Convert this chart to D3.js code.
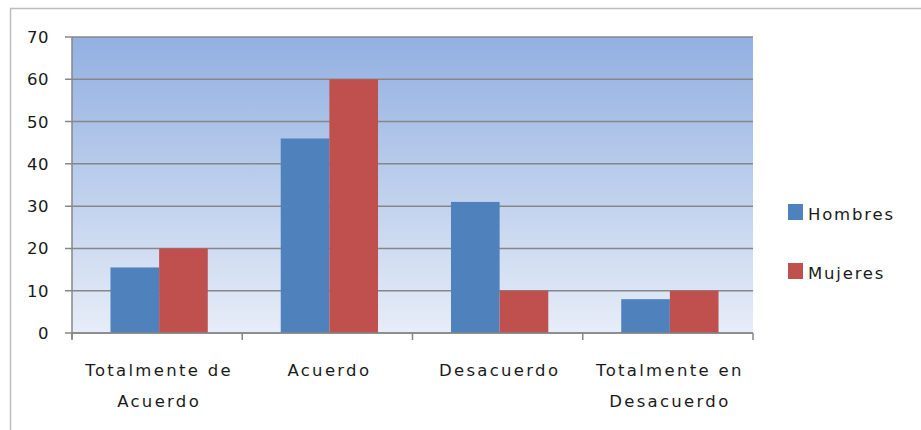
<!DOCTYPE html>
<html>
<head>
<meta charset="utf-8">
<script src="https://cdn.jsdelivr.net/npm/d3@7"></script>
<style>
  body { margin: 0; background: #fff; }
  text { font-family: "DejaVu Sans", Verdana, sans-serif; fill: #1a1a1a; }
</style>
</head>
<body>
<div id="chart"></div>
<script>
let categories = ['Totalmente de Acuerdo', 'Acuerdo', 'Desacuerdo', 'Totalmente en Desacuerdo'];
let category_lines = [['Totalmente de', 'Acuerdo'], ['Acuerdo'], ['Desacuerdo'], ['Totalmente en', 'Desacuerdo']];
let series_names = ['Hombres', 'Mujeres'];
let hombres = [15.5, 46, 31, 8];
let mujeres = [20, 60, 10, 10];
let y_ticks = [0, 10, 20, 30, 40, 50, 60, 70];
let colors = ['#4f81bd', '#c0504d'];

let chart_width = 921;
let chart_height = 430;
let plot = { left: 72, right: 753, top: 37, bottom: 333 };

let svg = d3.select('#chart')
    .append('svg')
    .attr('width', chart_width)
    .attr('height', chart_height);

// outer frame
svg.append('rect')
    .attr('x', 10.5).attr('y', 8.5)
    .attr('width', 930).attr('height', 440)
    .attr('fill', 'none')
    .attr('stroke', '#bdbdbd')
    .attr('stroke-width', 1.5);

let grad = svg.append('defs').append('linearGradient')
    .attr('id', 'bg').attr('x1', 0).attr('y1', 0).attr('x2', 0).attr('y2', 1);
grad.append('stop').attr('offset', '0%').attr('stop-color', '#92b0e1');
grad.append('stop').attr('offset', '100%').attr('stop-color', '#e7edf8');

let x_scale = d3.scaleBand()
    .domain(categories)
    .range([plot.left, plot.right]);

let x_inner = d3.scaleBand()
    .domain(series_names)
    .range([2, x_scale.bandwidth() + 2])
    .paddingOuter(0.75);

let y_scale = d3.scaleLinear()
    .domain([0, 70])
    .range([plot.bottom, plot.top]);

svg.append('rect')
    .attr('x', plot.left).attr('y', plot.top)
    .attr('width', plot.right - plot.left)
    .attr('height', plot.bottom - plot.top)
    .attr('fill', 'url(#bg)');

// gridlines
svg.selectAll('.grid')
    .data(y_ticks)
    .enter()
    .append('line')
    .attr('x1', plot.left - 7)
    .attr('x2', plot.right)
    .attr('y1', d => y_scale(d))
    .attr('y2', d => y_scale(d))
    .attr('stroke', '#878787')
    .attr('stroke-width', 1.5);

// bars
let rows = categories.map((c, i) => ({ cat: c, values: [hombres[i], mujeres[i]] }));
let groups = svg.selectAll('.grp')
    .data(rows)
    .enter()
    .append('g')
    .attr('transform', d => 'translate(' + x_scale(d.cat) + ',0)');

groups.selectAll('rect')
    .data(d => d.values.map((v, j) => ({ name: series_names[j], v: v, j: j })))
    .enter()
    .append('rect')
    .attr('x', d => x_inner(d.name))
    .attr('y', d => y_scale(d.v))
    .attr('width', x_inner.bandwidth())
    .attr('height', d => plot.bottom - y_scale(d.v))
    .attr('fill', d => colors[d.j]);

// axes lines
svg.append('line')
    .attr('x1', plot.left).attr('x2', plot.left)
    .attr('y1', plot.top).attr('y2', plot.bottom + 6)
    .attr('stroke', '#878787').attr('stroke-width', 1.5);
svg.append('line')
    .attr('x1', plot.left).attr('x2', plot.right)
    .attr('y1', plot.bottom).attr('y2', plot.bottom)
    .attr('stroke', '#878787').attr('stroke-width', 1.5);

let x_ticks = categories.map(c => x_scale(c)).concat([plot.right]);
svg.selectAll('.xtick')
    .data(x_ticks)
    .enter()
    .append('line')
    .attr('x1', d => d).attr('x2', d => d)
    .attr('y1', plot.bottom).attr('y2', plot.bottom + 7)
    .attr('stroke', '#878787').attr('stroke-width', 1.5);

// y labels
svg.selectAll('.ylab')
    .data(y_ticks)
    .enter()
    .append('text')
    .attr('x', 49)
    .attr('y', d => y_scale(d) + 6)
    .attr('text-anchor', 'end')
    .attr('font-size', 16.5)
    .attr('letter-spacing', 0.5)
    .text(d => d);

// x labels
let xl = svg.selectAll('.xlab')
    .data(categories)
    .enter()
    .append('text')
    .attr('text-anchor', 'middle')
    .attr('font-size', 16.5)
    .attr('letter-spacing', 2.3);
xl.selectAll('tspan')
    .data((d, i) => category_lines[i].map(t => ({ t: t, cat: d })))
    .enter()
    .append('tspan')
    .attr('x', d => x_scale(d.cat) + x_scale.bandwidth() / 2 + 2)
    .attr('y', (d, k) => 376 + k * 31)
    .text(d => d.t);

// legend
let legend = svg.selectAll('.leg')
    .data(series_names)
    .enter()
    .append('g')
    .attr('transform', (d, i) => 'translate(788,' + (204 + i * 59) + ')');
legend.append('rect')
    .attr('width', 15).attr('height', 16)
    .attr('fill', (d, i) => colors[i]);
legend.append('text')
    .attr('x', 20).attr('y', 15.5)
    .attr('font-size', 16.5)
    .attr('letter-spacing', 1.8)
    .text(d => d);
</script>
</body>
</html>
